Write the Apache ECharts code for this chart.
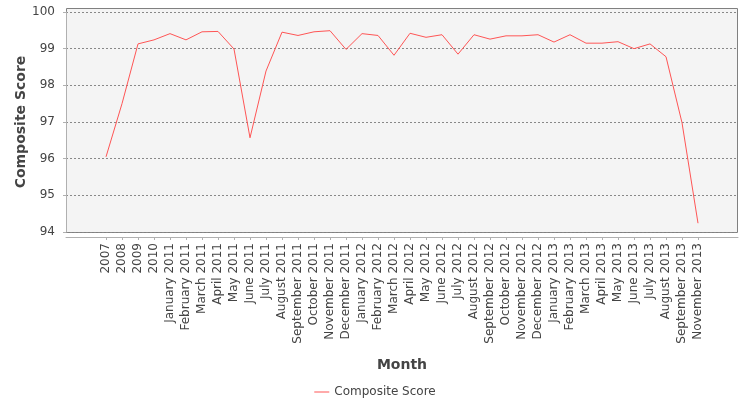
<!DOCTYPE html>
<html>
<head>
<meta charset="utf-8">
<script src="https://cdn.jsdelivr.net/npm/echarts@6/dist/echarts.min.js"></script>
<style>html,body{margin:0;padding:0;background:#fff;}#c{width:750px;height:400px;}</style>
</head>
<body>
<div id="c"></div>
<script>
const categories = ["2007","2008","2009","2010",
  "January 2011","February 2011","March 2011","April 2011","May 2011","June 2011","July 2011","August 2011","September 2011","October 2011","November 2011","December 2011",
  "January 2012","February 2012","March 2012","April 2012","May 2012","June 2012","July 2012","August 2012","September 2012","October 2012","November 2012","December 2012",
  "January 2013","February 2013","March 2013","April 2013","May 2013","June 2013","July 2013","August 2013","September 2013","November 2013"];
const compositeScore = [96.05, 97.5, 99.13, 99.24,
  99.41, 99.24, 99.46, 99.47, 98.99, 96.57, 98.39, 99.45, 99.36, 99.46, 99.49, 98.98,
  99.41, 99.36, 98.82, 99.42, 99.31, 99.38, 98.85, 99.38, 99.26, 99.35, 99.35, 99.38,
  99.18, 99.38, 99.15, 99.15, 99.19, 99.00, 99.13, 98.78, 96.98, 94.24];
const seriesName = "Composite Score";
const xTitle = "Month";
const yTitle = "Composite Score";
const yMin = 94, yMax = 100, yStep = 1;

const FONT = "DejaVu Sans";
const chart = echarts.init(document.getElementById('c'), null, {renderer: 'canvas'});
chart.setOption({
  animation: false,
  backgroundColor: '#ffffff',
  textStyle: {fontFamily: FONT},
  graphic: [{
    type: 'rect', z: -10, silent: true,
    shape: {x: 66.5, y: 8.5, width: 671, height: 224},
    style: {fill: '#f4f4f4', stroke: '#808080', lineWidth: 1}
  }],
  grid: [
    {left: 66, right: 12, top: 12, bottom: 168},
    {left: 98, width: 608, top: 12, bottom: 168}
  ],
  legend: {
    data: [{name: seriesName, icon: 'rect'}],
    top: 381, left: 'center',
    itemWidth: 15, itemHeight: 1, itemGap: 10,
    itemStyle: {color: '#ff5555'},
    textStyle: {fontFamily: FONT, fontSize: 12, color: '#444'}
  },
  xAxis: [
    {gridIndex: 0, type: 'value', min: 0, max: 1, offset: 5,
     axisLine: {show: true, lineStyle: {color: '#b0b0b0', width: 1}},
     axisTick: {show: false}, axisLabel: {show: false}, splitLine: {show: false}},
    {gridIndex: 1, type: 'category', data: categories, boundaryGap: true, offset: 5,
     name: xTitle, nameLocation: 'middle', nameGap: 121, nameMoveOverlap: false,
     nameTextStyle: {fontFamily: FONT, fontSize: 14, fontWeight: 'bold', color: '#444'},
     axisLine: {show: false},
     axisTick: {show: true, alignWithLabel: true, length: 3, lineStyle: {color: '#b0b0b0'}},
     axisLabel: {interval: 0, rotate: 90, margin: 6, fontFamily: FONT, fontSize: 12, color: '#444'},
     splitLine: {show: false}}
  ],
  yAxis: [
    {gridIndex: 0, type: 'value', min: yMin, max: yMax, interval: yStep, offset: 3,
     name: yTitle, nameLocation: 'middle', nameGap: 35, nameMoveOverlap: false,
     nameTextStyle: {fontFamily: FONT, fontSize: 14, fontWeight: 'bold', color: '#444'},
     axisLine: {show: true, lineStyle: {color: '#b0b0b0', width: 1}},
     axisTick: {show: true, length: 3, lineStyle: {color: '#b0b0b0'}},
     axisLabel: {margin: 8, fontFamily: FONT, fontSize: 12, color: '#444'},
     splitLine: {show: true, lineStyle: {color: '#888', type: [2, 2], width: 1}}},
    {gridIndex: 1, type: 'value', min: yMin, max: yMax, interval: yStep, show: false,
     splitLine: {show: false}}
  ],
  series: [{
    name: seriesName, type: 'line', xAxisIndex: 1, yAxisIndex: 1,
    data: compositeScore, symbol: 'none', showSymbol: false,
    lineStyle: {color: '#ff5555', width: 1}, itemStyle: {color: '#ff5555'}
  }]
});
</script>
</body>
</html>
